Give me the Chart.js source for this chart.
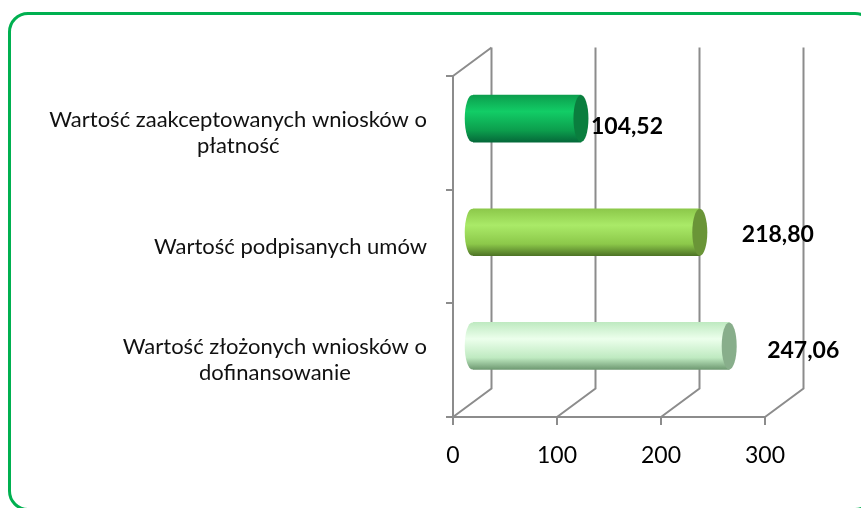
<!DOCTYPE html>
<html>
<head>
<meta charset="utf-8">
<script src="https://cdn.jsdelivr.net/npm/chart.js"></script>
<style>
  html, body { margin: 0; padding: 0; background: #fff; overflow: hidden; }
  #wrap { position: relative; width: 861px; height: 508px; }
  #frame {
    position: absolute; left: 8px; top: 12px; width: 867px; height: 499px;
    border: 3px solid #00b050; border-radius: 20px; box-sizing: border-box;
  }
  #chart { position: absolute; left: 0; top: 0; }
</style>
</head>
<body>
<div id="wrap">
  <div id="frame"></div>
  <canvas id="chart" width="861" height="508"></canvas>
</div>
<script>
const categories = [
  ["Wartość zaakceptowanych wniosków o", "płatność"],
  ["Wartość podpisanych umów"],
  ["Wartość złożonych wniosków o", "dofinansowanie"],
];
const values = [104.52, 218.8, 247.06];
const valueLabels = ["104,52", "218,80", "247,06"];
const xTicks = [0, 100, 200, 300];

// cylinder colours per bar: edge, highlight, shadow, end cap
const barColors = [
  { edge: "#0c9e4d", light: "#12cd66", dark: "#05693a", cap: "#0a7e3e" },
  { edge: "#8cc84a", light: "#aaea68", dark: "#4e7426", cap: "#6a9537" },
  { edge: "#bfeac1", light: "#ecffec", dark: "#6f9a72", cap: "#88ae8b" },
];
// small nudges for the value labels (Excel placed them by hand)
const labelNudge = [[10, 8], [42, 2], [38, 5]];

const DX = 38.5, DY = -28.5; // depth of the 3D box
const GRID = "#8c8c8c";
const BAR_H = 47, CAP_RX = 7.5;

const barGradient = (ctx, yc, c) => {
  const g = ctx.createLinearGradient(0, yc - BAR_H / 2, 0, yc + BAR_H / 2);
  g.addColorStop(0, c.edge);
  g.addColorStop(0.35, c.light);
  g.addColorStop(0.75, c.edge);
  g.addColorStop(1, c.dark);
  return g;
};

const frame3d = {
  id: "frame3d",
  beforeDatasetsDraw(chart) {
    const { ctx, chartArea: a, scales: { x } } = chart;
    ctx.save();
    ctx.strokeStyle = GRID;
    ctx.lineWidth = 2;
    ctx.beginPath();
    xTicks.forEach((t) => {
      const px = x.getPixelForValue(t);
      ctx.moveTo(px, a.bottom);
      ctx.lineTo(px + DX, a.bottom + DY);
      ctx.lineTo(px + DX, a.top + DY);
    });
    ctx.moveTo(a.left, a.top);
    ctx.lineTo(a.left + DX, a.top + DY);
    ctx.stroke();
    ctx.restore();
    // bars sit half way into the box
    ctx.save();
    ctx.translate(DX / 2, DY / 2);
  },
  afterDatasetsDraw(chart) {
    const { ctx, scales: { x, y } } = chart;
    const x0 = x.getPixelForValue(0);
    values.forEach((v, i) => {
      const yc = y.getPixelForValue(i);
      const xv = x.getPixelForValue(v);
      ctx.fillStyle = barGradient(ctx, yc, barColors[i]);
      ctx.beginPath();
      ctx.ellipse(x0, yc, CAP_RX, BAR_H / 2, 0, 0, Math.PI * 2);
      ctx.fill();
      ctx.fillStyle = barColors[i].cap;
      ctx.beginPath();
      ctx.ellipse(xv, yc, CAP_RX, BAR_H / 2, 0, 0, Math.PI * 2);
      ctx.fill();
    });
    ctx.restore();
  },
  afterDraw(chart) {
    const { ctx, scales: { x, y } } = chart;
    ctx.save();
    // value labels
    ctx.font = "bold 23px Lato";
    ctx.fillStyle = "#000";
    ctx.textAlign = "left";
    ctx.textBaseline = "middle";
    values.forEach((v, i) => {
      const px = x.getPixelForValue(v) + DX / 2 + labelNudge[i][0];
      const py = y.getPixelForValue(i) + DY / 2 + labelNudge[i][1];
      ctx.fillText(valueLabels[i], px, py);
    });
    // category labels: block right aligned, lines centred in block
    ctx.font = "22px Lato";
    ctx.fillStyle = "#111";
    ctx.textAlign = "center";
    const right = 427, lh = 26;
    categories.forEach((lines, i) => {
      const yc = y.getPixelForValue(i);
      const w = Math.max(...lines.map((l) => ctx.measureText(l).width));
      lines.forEach((l, j) => {
        ctx.fillText(l, right - w / 2, yc + (j - (lines.length - 1) / 2) * lh);
      });
    });
    ctx.restore();
  },
};

new Chart(document.getElementById("chart"), {
  type: "bar",
  data: {
    labels: categories,
    datasets: [
      {
        data: values,
        barThickness: BAR_H,
        borderWidth: 0,
        backgroundColor: (c) => {
          const c0 = barColors[c.dataIndex] || barColors[0];
          const y = c.chart.scales.y;
          const yc = y ? y.getPixelForValue(c.dataIndex) : NaN;
          if (!isFinite(yc)) return c0.light;
          return barGradient(c.chart.ctx, yc, c0);
        },
      },
    ],
  },
  options: {
    indexAxis: "y",
    responsive: false,
    animation: false,
    events: [],
    layout: { padding: { left: 0, right: 96, top: 76, bottom: 0 } },
    plugins: { legend: { display: false }, tooltip: { enabled: false } },
    scales: {
      x: {
        type: "linear",
        min: 0,
        max: 300,
        afterFit: (s) => { s.height = 91; },
        afterBuildTicks: (s) => { s.ticks = xTicks.map((v) => ({ value: v })); },
        ticks: { color: "#000", font: { family: "Lato", size: 23 }, padding: 17 },
        grid: { drawOnChartArea: false, drawTicks: true, tickLength: 8, color: GRID, lineWidth: 2 },
        border: { display: true, color: GRID, width: 2 },
      },
      y: {
        afterFit: (s) => { s.width = 453; },
        ticks: { display: false },
        grid: { drawOnChartArea: false, drawTicks: true, tickLength: 7, color: GRID, lineWidth: 2 },
        border: { display: true, color: GRID, width: 2 },
      },
    },
  },
  plugins: [frame3d],
});
</script>
</body>
</html>
